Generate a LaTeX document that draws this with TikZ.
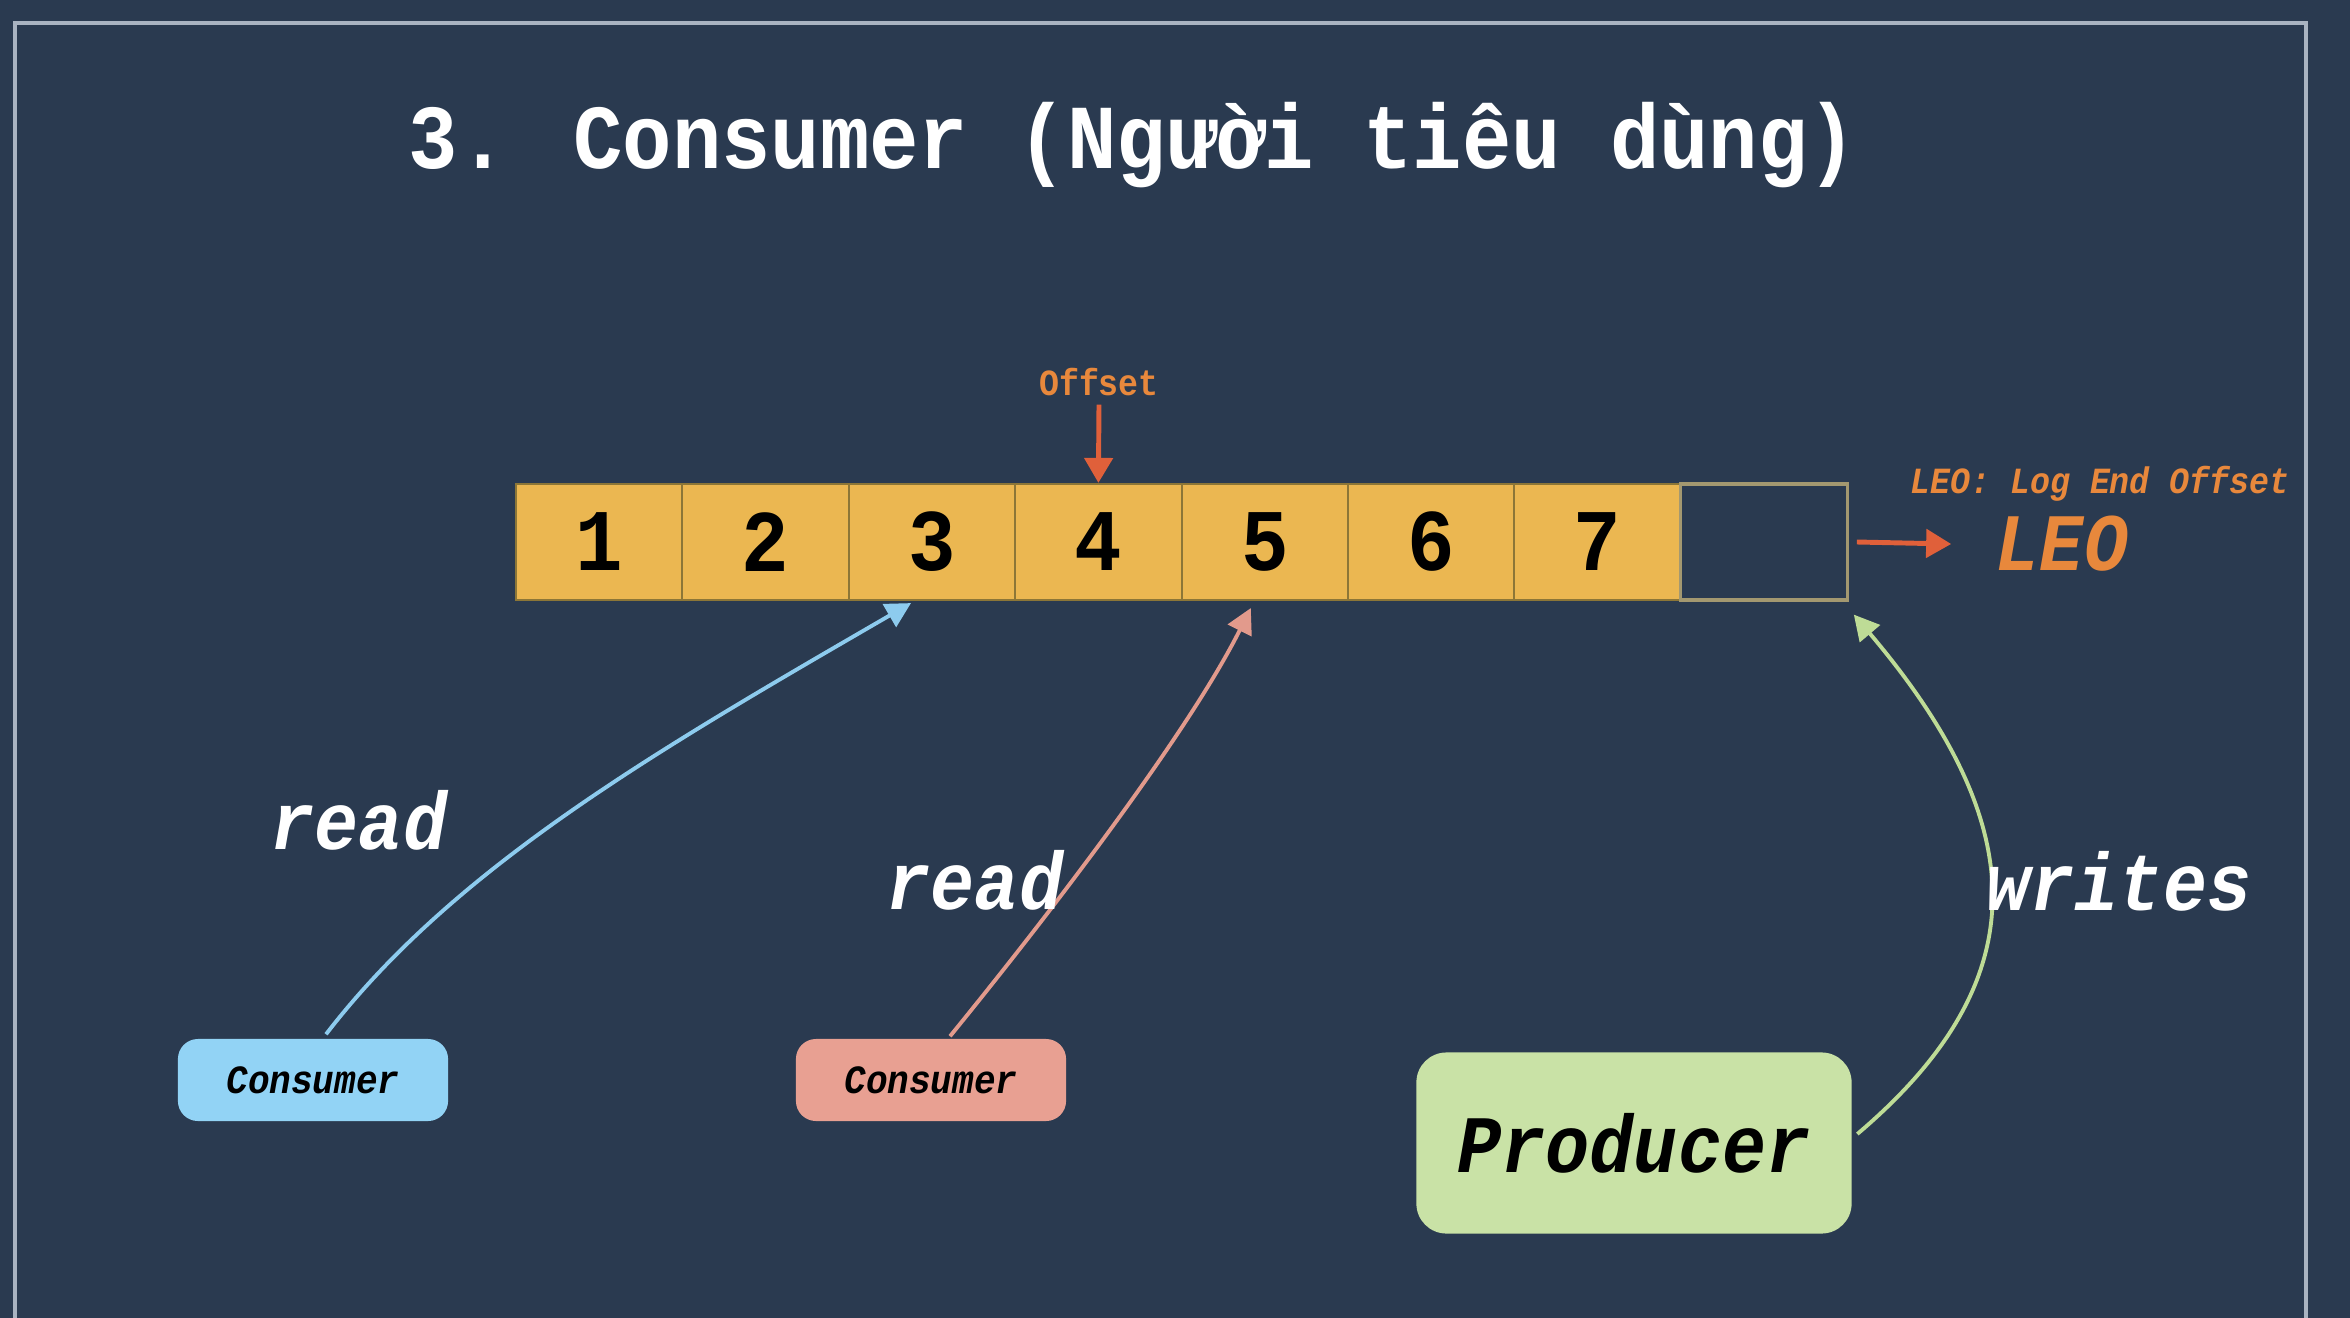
\documentclass[tikz,border=0pt]{standalone}
\usepackage{fontspec}
\newfontfamily\monof[FakeStretch=0.9]{Liberation Mono}
\usetikzlibrary{arrows.meta}
\definecolor{bg}{HTML}{2A3A50}
\definecolor{frameline}{HTML}{A9B3C1}
\definecolor{cellfill}{HTML}{EBB751}
\definecolor{cellline}{HTML}{8C7637}
\definecolor{emptyline}{HTML}{A39870}
\definecolor{arrowred}{HTML}{E0603A}
\definecolor{orangetxt}{HTML}{E8883C}
\definecolor{bluefill}{HTML}{92D3F5}
\definecolor{blueline}{HTML}{8DCBEE}
\definecolor{salmonfill}{HTML}{E8A092}
\definecolor{salmonline}{HTML}{E29A8C}
\definecolor{greenfill}{HTML}{C9E2A6}
\definecolor{greenline}{HTML}{BEDC96}
\tikzset{
  cellbox/.style={draw=cellline, line width=0.6pt, fill=cellfill,
    minimum width=1.664cm, minimum height=1.16cm, inner sep=0pt,
    font=\monof\bfseries\fontsize{25pt}{25pt}\selectfont, text=black},
  smallbox/.style={rounded corners=0.2cm, minimum width=2.7cm, minimum height=0.82cm,
    inner sep=0pt, text=black, font=\monof\bfseries\itshape\fontsize{11.4pt}{12pt}\selectfont},
  bigtxt/.style={inner sep=0pt, font=\monof\bfseries\itshape\fontsize{23.2pt}{24pt}\selectfont},
  smalltxt/.style={inner sep=0pt, text=orangetxt, font=\monof\bfseries\fontsize{10.5pt}{11pt}\selectfont},
  flow/.style={line width=1.1pt, -{Triangle[length=0.25cm, width=0.26cm]}},
  pointer/.style={draw=arrowred, line width=1.4pt, -{Triangle[length=0.25cm, width=0.28cm]}}
}
\begin{document}
\begin{tikzpicture}[x=0.01cm, y=-0.01cm]
\fill[bg] (0,0) rectangle (2350,1318);
\useasboundingbox (0,0) rectangle (2350,1318);
% frame
\draw[frameline, line width=0.9pt] (15,1318) -- (15,23) -- (2306,23) -- (2306,1318);

% title
\node[text=white, inner sep=0pt, font=\monof\bfseries\fontsize{26pt}{28pt}\selectfont] (title) at (1133,145) {3. Consumer (Người tiêu dùng)};

% cells
\node[cellbox] (c1) at (599.2,542) {1};
\node[cellbox] (c2) at (765.6,542) {2};
\node[cellbox] (c3) at (932.0,542) {3};
\node[cellbox] (c4) at (1098.4,542) {4};
\node[cellbox] (c5) at (1264.8,542) {5};
\node[cellbox] (c6) at (1431.2,542) {6};
\node[cellbox] (c7) at (1597.6,542) {7};
\node[cellbox, draw=emptyline, line width=0.9pt, fill=none] (c8) at (1764.0,542) {};

% offset
\node[smalltxt] (off) at (1099,382) {Offset};
\draw[pointer] ([yshift=-0.08cm]off.south) -- (c4.north);

% LEO
\node[smalltxt, font=\monof\bfseries\itshape\fontsize{10.5pt}{11pt}\selectfont] (leodef) at (2100,484) {LEO: Log End Offset};
\node[bigtxt, text=orangetxt] (leo) at (2062,544) {LEO};
\draw[pointer] ([xshift=0.08cm]c8.east) -- ([xshift=-0.44cm]leo.west);

% consumers and producer
\node[smallbox, fill=bluefill] (cb) at (313,1080) {Consumer};
\node[smallbox, fill=salmonfill] (cr) at (931,1080) {Consumer};
\node[rounded corners=0.3cm, minimum width=4.35cm, minimum height=1.81cm, inner sep=0pt,
  fill=greenfill, text=black, font=\monof\bfseries\itshape\fontsize{23.2pt}{24pt}\selectfont] (pr) at (1634,1143) {Producer};

% connectors
\draw[flow, blueline] ([xshift=0.13cm, yshift=0.04cm]cb.north) .. controls +(130,-169) and +(-250,145) .. ([xshift=-0.21cm, yshift=-0.02cm]c3.south);
\draw[flow, salmonline] ([xshift=0.19cm, yshift=0.02cm]cr.north) .. controls +(110,-135) and +(-60,120) .. ([xshift=-0.14cm, yshift=-0.07cm]c5.south);
\draw[flow, greenline] ([xshift=0.05cm, yshift=0.09cm]pr.east) .. controls +(177,-150) and +(183,216) .. ([xshift=0.05cm, yshift=-0.13cm]c8.south east);

% labels
\node[bigtxt, text=white] (read1) at (359,820) {read};
\node[bigtxt, text=white] (read2) at (975,880) {read};
\node[bigtxt, text=white] (writes) at (2119,881) {writes};
\end{tikzpicture}
\end{document}
